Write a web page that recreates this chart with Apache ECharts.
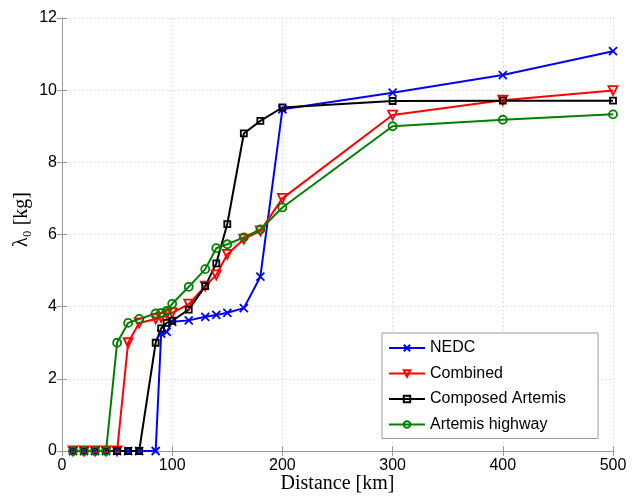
<!DOCTYPE html>
<html>
<head>
<meta charset="utf-8">
<script src="https://cdn.jsdelivr.net/npm/echarts@6/dist/echarts.min.js"></script>
<style>html,body{margin:0;padding:0;background:#fff;overflow:hidden}#c{width:639px;height:496px}</style>
</head>
<body>
<div id="c"></div>
<script>
var distances = [10,20,30,40,50,60,70,85,90,95,100,115,130,140,150,165,180,200,300,400,500];
var nedc      = [0,0,0,0,0,0,0,0,3.25,3.3,3.58,3.62,3.72,3.77,3.83,3.96,4.83,9.47,9.93,10.42,11.08];
var combined  = [0,0,0,0,0,3.0,3.55,3.66,3.7,3.8,3.83,4.07,4.57,4.88,5.45,5.87,6.1,7.0,9.31,9.72,9.99];
var composed  = [0,0,0,0,0,0,0,3.0,3.4,3.55,3.61,3.92,4.57,5.2,6.29,8.8,9.15,9.52,9.7,9.71,9.71];
var highway   = [0,0,0,0,3.0,3.55,3.66,3.81,3.83,3.88,4.08,4.55,5.04,5.62,5.73,5.92,6.14,6.75,9.0,9.18,9.33];
var seriesNames = ['NEDC','Combined','Composed Artemis','Artemis highway'];
var xTicks = [0,100,200,300,400,500];
var yTicks = [0,2,4,6,8,10,12];

function pairs(vals){ return distances.map(function(d,i){ return [d, vals[i]]; }); }
var sans = 'Liberation Sans, Arial, sans-serif';
var serif = 'Liberation Serif, Times New Roman, serif';

function mk(name, vals, color, symbol, size, rotate){
  return {
    name: name, type: 'line', data: pairs(vals),
    xAxisIndex: 0, yAxisIndex: 0,
    symbol: symbol, symbolSize: size, symbolRotate: rotate || 0,
    showAllSymbol: true,
    lineStyle: {color: color, width: 2},
    itemStyle: {color: 'none', borderColor: color, borderWidth: 1.8},
    emphasis: {disabled: true},
    animation: false
  };
}

var chart = echarts.init(document.getElementById('c'), null, {renderer: 'canvas', width: 639, height: 496});
var axisCommon = {
  type: 'value',
  axisLine: {show: true, lineStyle: {color: '#999', width: 1}},
  axisTick: {show: true, inside: true, length: 5, lineStyle: {color: '#999'}}
};
chart.setOption({
  animation: false,
  backgroundColor: '#fff',
  grid: {left: 62, width: 551, top: 18, height: 433, containLabel: false, outerBoundsMode: 'none'},
  legend: {
    orient: 'vertical', left: 382, top: 333,
    data: seriesNames,
    itemWidth: 36, itemHeight: 8, itemGap: 9.5,
    padding: [7, 32, 6, 6],
    backgroundColor: '#fff', borderColor: '#999', borderWidth: 1,
    textStyle: {fontFamily: sans, fontSize: 16, color: '#000', lineHeight: 16}
  },
  xAxis: [
    Object.assign({}, axisCommon, {
      min: xTicks[0], max: xTicks[xTicks.length-1], interval: 100,
      position: 'bottom',
      axisLabel: {fontFamily: sans, fontSize: 16, color: '#000', margin: 7},
      splitLine: {show: true, lineStyle: {color: '#ccc', type: [1, 3], width: 1}},
      name: 'Distance [km]', nameLocation: 'middle', nameGap: 23, nameMoveOverlap: false,
      nameTextStyle: {fontFamily: serif, fontSize: 20, color: '#000'}
    }),
    Object.assign({}, axisCommon, {
      min: 0, max: 500, interval: 100, position: 'top',
      axisLabel: {show: false}, splitLine: {show: false}
    })
  ],
  yAxis: [
    Object.assign({}, axisCommon, {
      min: yTicks[0], max: yTicks[yTicks.length-1], interval: 2,
      position: 'left',
      axisLabel: {fontFamily: sans, fontSize: 16, color: '#000', margin: 5},
      splitLine: {show: true, lineStyle: {color: '#ccc', type: [1, 3], width: 1}},
      name: 'λ₀ [kg]', nameLocation: 'middle', nameGap: 30, nameMoveOverlap: false,
      nameTextStyle: {fontFamily: serif, fontSize: 20, color: '#000', padding: [0, 0, 0, 30]}
    }),
    Object.assign({}, axisCommon, {
      min: 0, max: 12, interval: 2, position: 'right',
      axisLabel: {show: false}, splitLine: {show: false}
    })
  ],
  series: [
    mk(seriesNames[0], nedc, '#0000ff', 'path://M0,0L10,10M10,0L0,10', 8),
    mk(seriesNames[1], combined, '#ff0000', 'triangle', 9, 180),
    mk(seriesNames[2], composed, '#000000', 'rect', 6),
    mk(seriesNames[3], highway, '#008000', 'circle', 8)
  ]
});
</script>
</body>
</html>
